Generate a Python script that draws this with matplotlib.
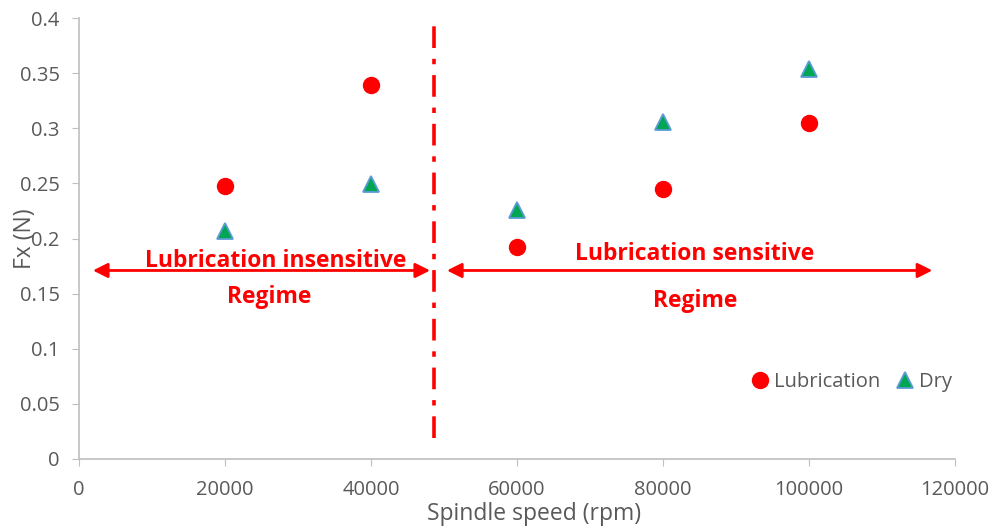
import matplotlib.pyplot as plt

plt.rcParams['font.family'] = ['Open Sans', 'DejaVu Sans']

speed = [20000, 40000, 60000, 80000, 100000]
lubrication = [0.248, 0.339, 0.192, 0.245, 0.305]
dry = [0.207, 0.249, 0.226, 0.306, 0.354]
xticks = [0, 20000, 40000, 60000, 80000, 100000, 120000]
yticks = [0, 0.05, 0.1, 0.15, 0.2, 0.25, 0.3, 0.35, 0.4]

gray = '#595959'
spine = '#bfbfbf'

fig = plt.figure(figsize=(9.96, 5.31), dpi=100)
ax = fig.add_axes([79 / 996, 72 / 531, 876 / 996, 441 / 531])

ax.plot(speed, lubrication, 'o', color='red', markersize=11.5, label='Lubrication', linestyle='none')
ax.plot(speed, dry, '^', color='#00a651', markeredgecolor='#5b9bd5', markeredgewidth=1.3,
        markersize=11, label='Dry', linestyle='none')

ax.set_xlim(0, 120000)
ax.set_ylim(0, 0.4)
ax.set_xticks(xticks)
ax.set_yticks(yticks)
ax.set_yticklabels(['0', '0.05', '0.1', '0.15', '0.2', '0.25', '0.3', '0.35', '0.4'])
ax.tick_params(colors=gray, labelsize=14.5, length=5, color=spine)
ax.tick_params(axis='x', pad=10)
ax.tick_params(axis='y', pad=9)
for s in ['top', 'right']:
    ax.spines[s].set_visible(False)
for s in ['left', 'bottom']:
    ax.spines[s].set_color(spine)
    ax.spines[s].set_linewidth(1.2)

ax.set_xlabel('Spindle speed (rpm)', color=gray, fontsize=16.5)
ax.set_ylabel('Fx (N)', color=gray, fontsize=16.5)
ax.xaxis.set_label_coords(0.52, -0.098)
ax.yaxis.set_label_coords(-0.048, 0.5)

# regime boundary
ax.plot([48600, 48600], [0.019, 0.394], color='red', linestyle=(0, (6, 3, 1.5, 3)), linewidth=2.6)

arrow = dict(arrowstyle='<|-|>', color='red', lw=2, mutation_scale=22, shrinkA=0, shrinkB=0)
ax.annotate('', xy=(1900, 0.171), xytext=(48100, 0.171), arrowprops=arrow)
ax.annotate('', xy=(50400, 0.171), xytext=(116900, 0.171), arrowprops=arrow)

txt = dict(color='red', fontsize=16.5, fontweight='bold', ha='center', va='center')
ax.text(27000, 0.18, 'Lubrication insensitive', **txt)
ax.text(26000, 0.147, 'Regime', **txt)
ax.text(84400, 0.186, 'Lubrication sensitive', **txt)
ax.text(84400, 0.143, 'Regime', **txt)

leg = ax.legend(loc='lower right', bbox_to_anchor=(1.017, 0.11), frameon=False, ncol=2,
                fontsize=14.5, handletextpad=0.0, columnspacing=0.5, handlelength=1.4)
for t in leg.get_texts():
    t.set_color(gray)

fig.savefig('out.png', dpi=100)
